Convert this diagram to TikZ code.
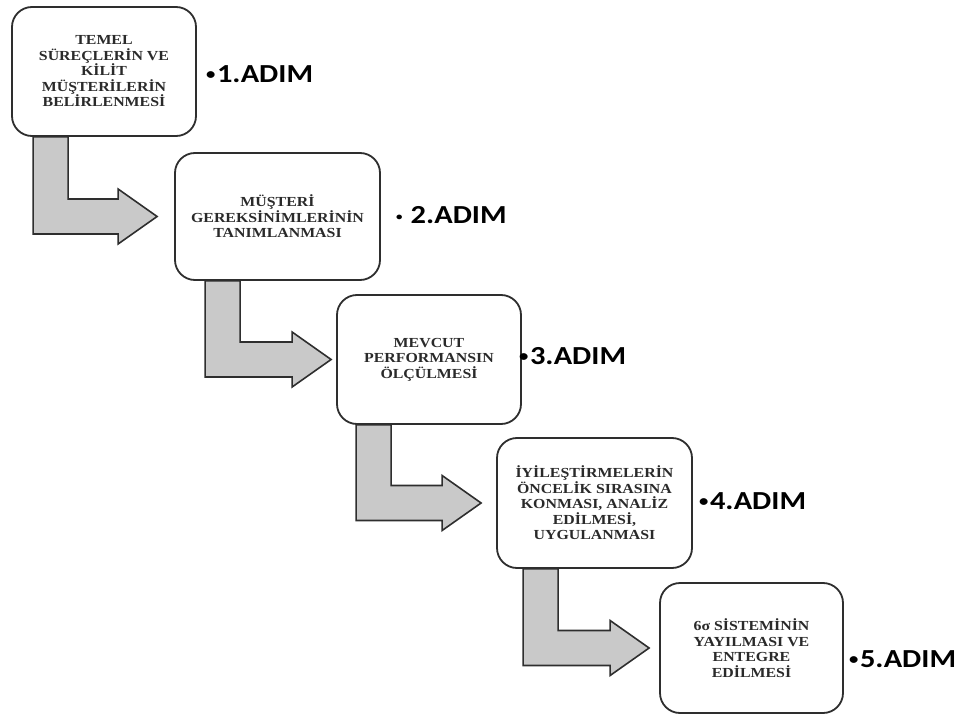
\documentclass[tikz,border=0pt]{standalone}
\usepackage{fontspec}
\setmainfont{Liberation Serif}
\newfontfamily\boxfont[FakeStretch=1.15]{Liberation Serif}
\newfontfamily\stepfont[FakeStretch=1.17]{Carlito}
\usetikzlibrary{calc}
\pgfdeclarelayer{bg}
\pgfsetlayers{bg,main}

\definecolor{edge}{HTML}{2E2E2E}
\definecolor{arrowfill}{HTML}{C9C9C9}
\definecolor{boxtext}{HTML}{2A2A2A}

% small bullet centred on the capitals of the step labels
\newcommand\stepdot[1][16]{\raisebox{3.2pt}{\fontsize{#1}{#1}\selectfont •}}

\tikzset{
  stepbox/.style={draw=edge, line width=1.8pt, fill=white, rounded corners=20pt,
    inner sep=0pt, align=center, text=boxtext,
    font=\boxfont\bfseries\fontsize{13.8}{15.5}\selectfont},
  steplabel/.style={inner sep=0pt, anchor=west, text=black,
    font=\stepfont\bfseries\fontsize{26}{30}\selectfont},
  flowarrow/.style={draw=edge, line width=1.6pt, fill=arrowfill, line join=miter}
}

% Bent block arrow leaving the bottom of #1 and pointing at the west side of #2.
% #3: shift of the arrow's outer edge from the left side of #1, #4: gap before #2.
\newcommand\bentarrow[4]{%
  \path[flowarrow] let \p1=(#1.south west), \p2=(#2.west) in
    (\x1+#3, \y1) -- (\x1+#3, \y2-17.5pt)
    -- (\x2-#4-39pt, \y2-17.5pt) -- (\x2-#4-39pt, \y2-27.5pt)
    -- (\x2-#4, \y2)
    -- (\x2-#4-39pt, \y2+27.5pt) -- (\x2-#4-39pt, \y2+17.5pt)
    -- (\x1+#3+35pt, \y2+17.5pt) -- (\x1+#3+35pt, \y1) -- cycle;}

\begin{document}
\begin{tikzpicture}[x=1pt, y=-1pt]
  \useasboundingbox (0,0) rectangle (962,717);

  \node[stepbox, minimum width=184pt, minimum height=129pt] (b1) at (104,71.5)
    {\fontsize{13.8}{14.3}\selectfont TEMEL\\SÜREÇLERİN VE\\KİLİT\\MÜŞTERİLERİN\\BELİRLENMESİ};
  \node[stepbox, minimum width=205pt, minimum height=127pt] (b2) at (277.5,216.5)
    {MÜŞTERİ\\GEREKSİNİMLERİNİN\\TANIMLANMASI};
  \node[stepbox, minimum width=184pt, minimum height=129pt] (b3) at (429,359.5)
    {\fontsize{13.8}{17.5}\selectfont MEVCUT\\PERFORMANSIN\\ÖLÇÜLMESİ};
  \node[stepbox, minimum width=195pt, minimum height=130pt] (b4) at (594.5,503)
    {\fontsize{13.8}{13.8}\selectfont İYİLEŞTİRMELERİN\\ÖNCELİK SIRASINA\\KONMASI, ANALİZ\\EDİLMESİ,\\UYGULANMASI};
  \node[stepbox, minimum width=183pt, minimum height=130pt] (b5) at (751.5,648)
    {\fontsize{13.8}{15.7}\selectfont 6σ SİSTEMİNİN\\YAYILMASI VE\\ENTEGRE\\EDİLMESİ};

  \begin{pgfonlayer}{bg}
    \bentarrow{b1}{b2}{22pt}{17pt}
    \bentarrow{b2}{b3}{31pt}{5pt}
    \bentarrow{b3}{b4}{20pt}{15pt}
    \bentarrow{b4}{b5}{27pt}{10pt}
  \end{pgfonlayer}

  \node[steplabel] (l1) at (206,74)  {\stepdot\hspace{1.5pt}1.ADIM};
  \node[steplabel] (l2) at (396,215) {\stepdot[11]\hspace{8pt}2.ADIM};
  \node[steplabel] (l3) at (519,356) {\stepdot\hspace{1.5pt}3.ADIM};
  \node[steplabel] (l4) at (699,501) {\stepdot\hspace{1.5pt}4.ADIM};
  \node[steplabel] (l5) at (849,659) {\stepdot\hspace{1.5pt}5.ADIM};
\end{tikzpicture}
\end{document}
